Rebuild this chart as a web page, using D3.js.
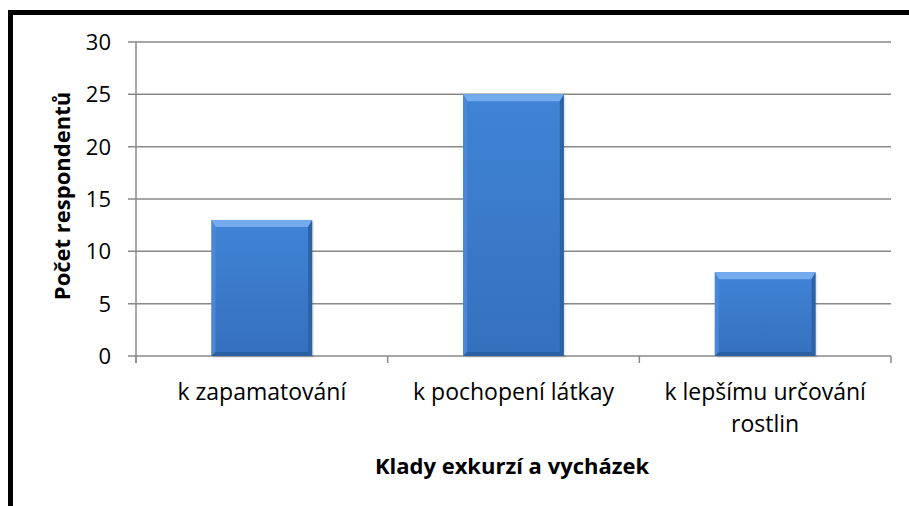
<!DOCTYPE html>
<html><head><meta charset="utf-8">
<script src="https://cdn.jsdelivr.net/npm/d3@7"></script>
<style>body{margin:0;background:#fff}svg{display:block}text{font-family:"Open Sans",Lato,sans-serif}</style>
</head><body><div id="c"></div>
<script>
const categories = [["k zapamatování"], ["k pochopení látkay"], ["k lepšímu určování", "rostlin"]];
const values = [13, 25, 8];
const yTicks = [0, 5, 10, 15, 20, 25, 30];
const yTitle = "Počet respondentů";
const xTitle = "Klady exkurzí a vycházek";

(function(){
const W = 909, H = 506;
const svg = d3.select("#c").append("svg").attr("width", W).attr("height", H);
const defs = svg.append("defs");
const g1 = defs.append("linearGradient").attr("id","bf").attr("x1",0).attr("y1",0).attr("x2",0).attr("y2",1);
g1.append("stop").attr("offset",0).attr("stop-color","#4084d6");
g1.append("stop").attr("offset",1).attr("stop-color","#3570bd");

svg.append("rect").attr("x",10.5).attr("y",12.5).attr("width",1000).attr("height",1000)
  .attr("fill","none").attr("stroke","#000").attr("stroke-width",5);

const pL = 136, pR = 891, pT = 42, pB = 356;
const x = d3.scaleBand().domain(d3.range(categories.length)).range([pL, pR]).paddingInner(0.6).paddingOuter(0.3);
const y = d3.scaleLinear().domain([0, 30]).range([pB, pT]);

svg.append("g").selectAll("line").data(yTicks).join("line")
  .attr("x1", pL - 8).attr("x2", pR).attr("y1", d => y(d)).attr("y2", d => y(d))
  .attr("stroke", "#888").attr("stroke-width", 1.5);
svg.append("line").attr("x1",pL).attr("x2",pL).attr("y1",pT).attr("y2",pB+7)
  .attr("stroke","#888").attr("stroke-width",1.5);
const step = (pR-pL)/categories.length;
svg.append("g").selectAll("line").data(d3.range(categories.length+1)).join("line")
  .attr("x1", i => pL + i*step).attr("x2", i => pL + i*step)
  .attr("y1", pB).attr("y2", pB + 7).attr("stroke","#888").attr("stroke-width",1.5);

svg.append("g").selectAll("text").data(yTicks).join("text")
  .attr("x", 111).attr("y", d => y(d)).attr("dy","0.36em").attr("text-anchor","end")
  .attr("font-size", 22).attr("fill","#000").text(d => d);

const bars = svg.append("g").selectAll("g").data(values).join("g");
bars.each(function(v, i){
  const gg = d3.select(this);
  const x0 = x(i), w = x.bandwidth(), y0 = y(v), y1 = y(0), h = y1 - y0;
  const b = 4, bt = 7;
  gg.append("rect").attr("x", x0+2).attr("y", y0+2).attr("width", w).attr("height", h).attr("fill","#000").attr("opacity",0.08);
  gg.append("rect").attr("x", x0).attr("y", y0).attr("width", w).attr("height", h).attr("fill","url(#bf)");
  gg.append("polygon").attr("points", `${x0},${y0} ${x0+w},${y0} ${x0+w-b},${y0+bt} ${x0+b},${y0+bt}`).attr("fill","#74abee");
  gg.append("polygon").attr("points", `${x0},${y0} ${x0+b},${y0+bt} ${x0+b},${y1-b} ${x0},${y1}`).attr("fill","#4a88d6");
  gg.append("polygon").attr("points", `${x0+w},${y0} ${x0+w-b},${y0+bt} ${x0+w-b},${y1-b} ${x0+w},${y1}`).attr("fill","#2d62a8");
  gg.append("polygon").attr("points", `${x0},${y1} ${x0+b},${y1-b} ${x0+w-b},${y1-b} ${x0+w},${y1}`).attr("fill","#2b5fa3");
});

const cl = svg.append("g").selectAll("text").data(categories).join("text")
  .attr("text-anchor","middle").attr("font-size",23).attr("fill","#000");
cl.each(function(lines, i){
  const t = d3.select(this);
  lines.forEach((s, k) => t.append("tspan").attr("x", pL + (i+0.5)*step).attr("y", 400 + k*32).text(s));
});

svg.append("text").attr("x", 512).attr("y", 474).attr("text-anchor","middle")
  .attr("font-size",22).attr("font-weight","bold").text(xTitle);
svg.append("text").attr("transform","translate(70,196) rotate(-90)").attr("text-anchor","middle")
  .attr("font-size",22).attr("font-weight","bold").text(yTitle);
})();
</script></body></html>
